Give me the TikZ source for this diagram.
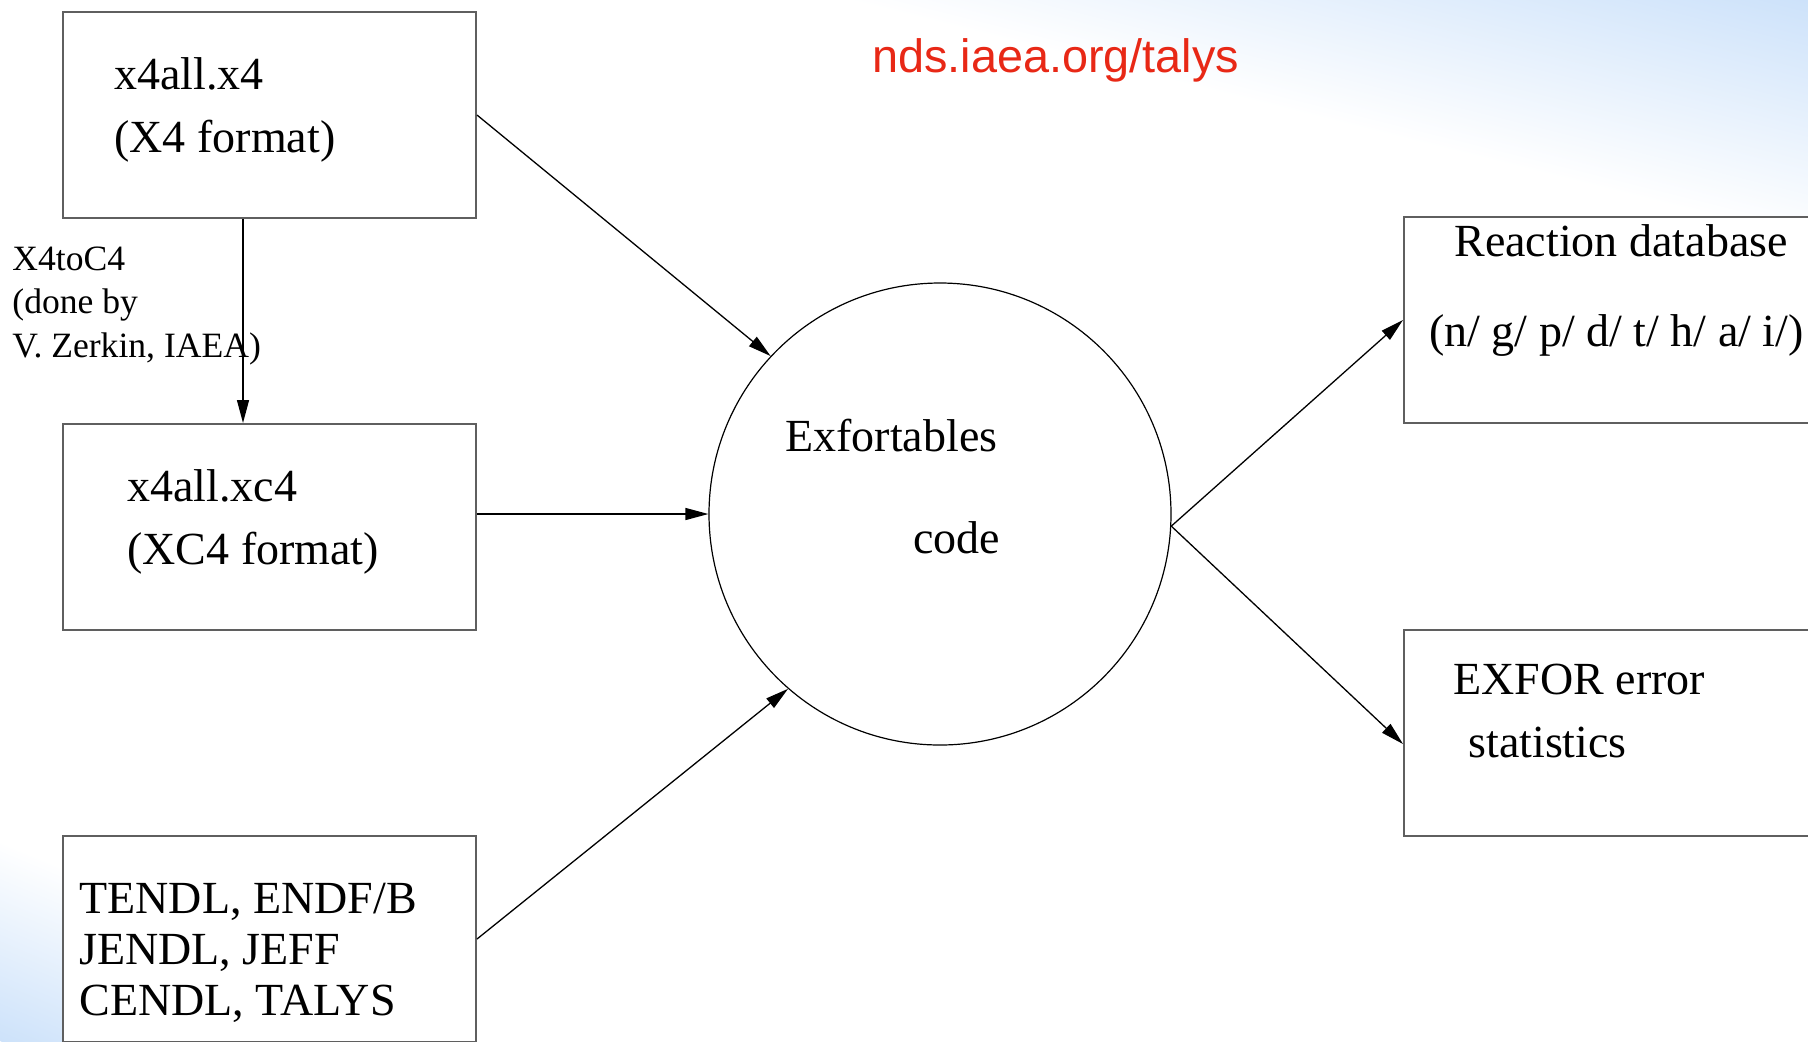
\documentclass[tikz,border=0pt]{standalone}
\usepackage{fontspec}
\setmainfont{Liberation Serif}
\newfontfamily\urlfont{Liberation Sans}
\usepackage{tikz}
\usetikzlibrary{arrows.meta,calc}
\definecolor{framegray}{RGB}{95,95,95}
\definecolor{slideblue}{RGB}{205,226,250}
\definecolor{linkred}{RGB}{232,40,22}
\tikzset{
    data-box/.style = {draw=framegray, fill=white, line width=1pt, rectangle, minimum width=206.5pt, minimum height=103pt, inner sep=0pt},
    code-circle/.style = {draw, fill=white, line width=0.6pt, circle, minimum size=231pt, inner sep=0pt},
    box-text/.style = {font=\fontsize{23}{31.5}\selectfont, align=left, inner sep=0pt, anchor=base west},
    flow-arrow/.style = {-{Triangle[length=11.5pt,width=6pt]}, line width=0.65pt},
}

\begin{document}
\begin{tikzpicture}[x=0.5pt, y=-0.5pt]
\useasboundingbox (0,0) rectangle (1808,1041);
\begin{scope}
    \clip (0,0) rectangle (1808,1041);
    \fill[white] (0,0) rectangle (1808,1041);
    \begin{scope}[transform canvas={rotate around={-14:(1808,0)}}]
        \shade[top color=slideblue, bottom color=white] (-300,0) rectangle (2300,233);
    \end{scope}
    \begin{scope}[transform canvas={rotate around={-22.7:(0,1041)}}]
        \shade[top color=white, bottom color=slideblue] (-200,856) rectangle (1500,1041);
    \end{scope}
\end{scope}

\node[data-box] (xfour) at (269.5,115) {};
\node[data-box] (xcfour) at (269.5,527) {};
\node[data-box] (libs) at (269.5,939) {};
\node[code-circle] (tables) at (940,514) {};
\node[data-box] (reacdb) at (1610.5,320) {};
\node[data-box] (errstat) at (1610.5,733) {};

\node[box-text] (xfour-text) at ($(xfour.north west)+(52,141)$) {x4all.x4\\(X4 format)};
\node[box-text] (xcfour-text) at ($(xcfour.north west)+(65,141)$) {x4all.xc4\\(XC4 format)};
\node[box-text, font=\fontsize{23}{25.5}\selectfont] (libs-text) at ($(libs.north west)+(17,180)$) {TENDL, ENDF/B\\JENDL, JEFF\\CENDL, TALYS};
\node[box-text] (tables-text) at ($(tables.center)+(-155,39)$) {Exfortables\\[19.5pt]\hspace*{64pt}code};
\node[box-text] (reacdb-text) at ($(reacdb.north west)+(26,130)$) {\hspace*{12.5pt}Reaction database\\[13.5pt](n/ g/ p/ d/ t/ h/ a/ i/)};
\node[box-text] (errstat-text) at ($(errstat.north west)+(50,128)$) {EXFOR error\\\hspace*{7.5pt}statistics};
\node[box-text, font=\fontsize{17.8}{21.75}\selectfont] (convert) at (12,357) {X4toC4\\(done by\\V. Zerkin, IAEA)};
\node[box-text, font=\urlfont\fontsize{23.4}{28}\selectfont, text=linkred] (url) at (872,72) {nds.iaea.org/talys};

\draw[flow-arrow] (xfour.east) -- (tables.137);
\draw[flow-arrow] ([xshift=-13.25pt]xfour.south) -- ([xshift=-13.25pt]xcfour.north);
\draw[flow-arrow] (tables.west -| xcfour.east) -- (tables.west);
\draw[flow-arrow] (libs.east) -- (tables.229);
\draw[flow-arrow] (tables.-3) -- (reacdb.west);
\draw[flow-arrow] (tables.-3) -- ([yshift=-5.5pt]errstat.west);
\end{tikzpicture}
\end{document}
